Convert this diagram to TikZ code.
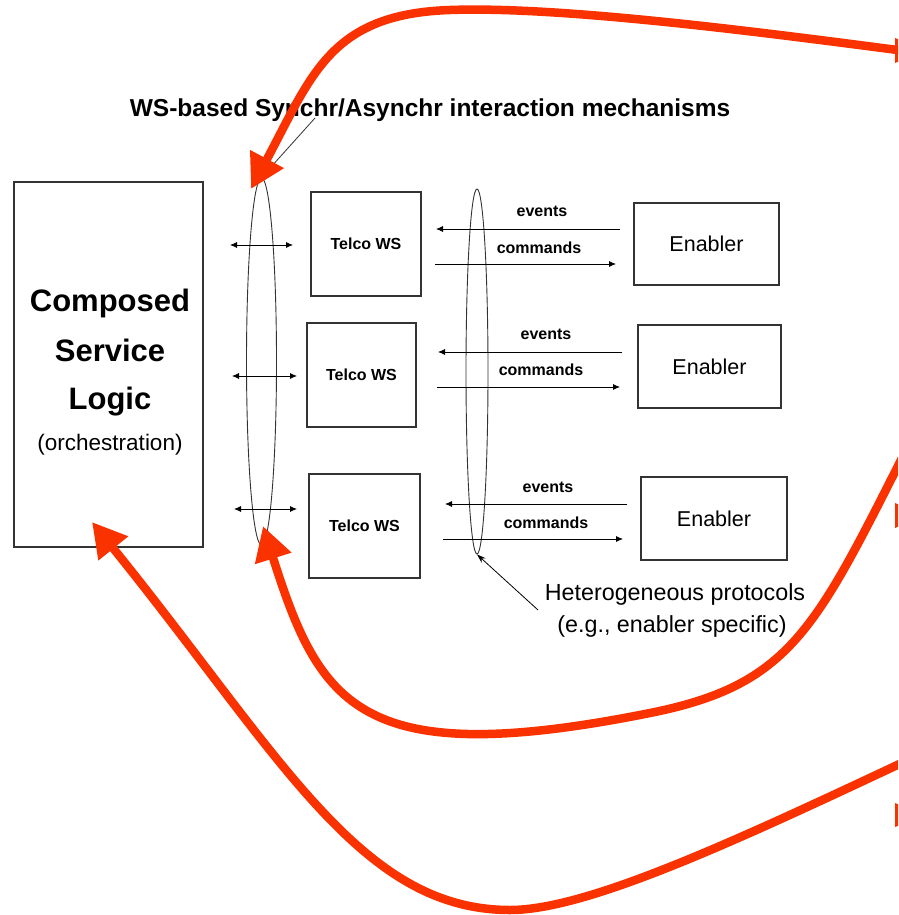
\documentclass[tikz,border=0pt]{standalone}
\usepackage{fontspec}
\setmainfont{Liberation Sans}
\usetikzlibrary{arrows.meta,shapes.geometric}
\definecolor{redc}{HTML}{FA3200}
\definecolor{linec}{HTML}{333333}
\begin{document}
\begin{tikzpicture}[x=1pt,y=-1pt,
  box/.style={draw=linec, line width=1.1pt, inner sep=0pt},
  telco/.style={box, minimum height=104pt, font=\fontsize{16}{18}\selectfont\bfseries},
  enabler/.style={box, minimum height=83pt, font=\fontsize{21.5}{24}\selectfont},
  oval/.style={draw=linec, line width=0.9pt, ellipse, inner sep=0pt},
  lbl/.style={font=\fontsize{16}{18}\selectfont\bfseries, anchor=base, inner sep=0pt},
  thinarrow/.style={line width=0.8pt, -{Latex[length=7pt,width=6pt]}},
  dblarrow/.style={line width=0.8pt, {Latex[length=7pt,width=6pt]}-{Latex[length=7pt,width=6pt]}},
  redcurve/.style={draw=redc, line width=8.5pt, line join=round},
  redhead/.style={-{Triangle[length=34pt,width=36pt]}}
]
\useasboundingbox (0,0) rectangle (898,915);
\clip (0,0) rectangle (898,915);

% Composed service logic
\node[box, minimum width=189pt, minimum height=365pt] (csl) at (108.5,364.5) {};
\node[anchor=base, inner sep=0pt, font=\fontsize{31}{36}\selectfont\bfseries] (t1) at (110,311) {Composed};
\node[anchor=base, inner sep=0pt, font=\fontsize{31}{36}\selectfont\bfseries] (t2) at (110,361) {Service};
\node[anchor=base, inner sep=0pt, font=\fontsize{31}{36}\selectfont\bfseries] (t3) at (110,409) {Logic};
\node[anchor=base, inner sep=0pt, font=\fontsize{22.5}{26}\selectfont] (t4) at (110,450) {(orchestration)};

% ellipses
\node[oval, minimum width=30pt, minimum height=367pt] (e1) at (261.5,361.5) {};
\node[oval, minimum width=22pt, minimum height=365pt] (e2) at (477,371.5) {};

% Telco WS boxes
\node[telco, minimum width=110pt] (w1) at (366,244) {Telco WS};
\node[telco, minimum width=109pt] (w2) at (361.5,375) {Telco WS};
\node[telco, minimum width=111pt] (w3) at (364.5,526) {Telco WS};

% Enablers
\node[enabler, minimum width=145pt, minimum height=82pt] (n1) at (706.5,244) {Enabler};
\node[enabler, minimum width=143pt] (n2) at (709.5,366.5) {Enabler};
\node[enabler, minimum width=146pt] (n3) at (714,518.5) {Enabler};

% double arrows
\coordinate (d1l) at (230,245); \coordinate (d1r) at (293,245);
\coordinate (d2l) at (232,376); \coordinate (d2r) at (297,376);
\coordinate (d3l) at (234,509); \coordinate (d3r) at (297,509);
\draw[dblarrow] (d1l) -- (d1r);
\draw[dblarrow] (d2l) -- (d2r);
\draw[dblarrow] (d3l) -- (d3r);

% events / commands
\coordinate (ev1s) at (620,229); \coordinate (ev1e) at (436,229);
\coordinate (cm1s) at (435,264); \coordinate (cm1e) at (616,264);
\coordinate (ev2s) at (622,352); \coordinate (ev2e) at (438,352);
\coordinate (cm2s) at (437,387); \coordinate (cm2e) at (620,387);
\coordinate (ev3s) at (627,504); \coordinate (ev3e) at (445,504);
\coordinate (cm3s) at (443,539); \coordinate (cm3e) at (623,539);
\draw[thinarrow] (ev1s) -- (ev1e);
\draw[thinarrow] (cm1s) -- (cm1e);
\draw[thinarrow] (ev2s) -- (ev2e);
\draw[thinarrow] (cm2s) -- (cm2e);
\draw[thinarrow] (ev3s) -- (ev3e);
\draw[thinarrow] (cm3s) -- (cm3e);
\node[lbl] (le1) at (542,216) {events};
\node[lbl] (lc1) at (539,253) {commands};
\node[lbl] (le2) at (546,339) {events};
\node[lbl] (lc2) at (541,375) {commands};
\node[lbl] (le3) at (548,492) {events};
\node[lbl] (lc3) at (546,528) {commands};

% labels
\node[anchor=base, inner sep=0pt, font=\fontsize{24.5}{28}\selectfont\bfseries] (wsl) at (430,117) {WS-based Synchr/Asynchr interaction mechanisms};
\coordinate (wsp) at (315,118);
\draw[line width=0.8pt, linec] (wsp) -- (e1.north);

\node[anchor=base, inner sep=0pt, font=\fontsize{23.3}{28}\selectfont] (hp1) at (675,600) {Heterogeneous protocols};
\node[anchor=base, inner sep=0pt, font=\fontsize{23.3}{28}\selectfont] (hp2) at (672,632) {(e.g., enabler specific)};
\coordinate (hpp) at (538,610);
\draw[line width=0.8pt, -{Stealth[length=9pt,width=6pt]}] (hpp) -- (e2.south);

% red curves
\coordinate (r1s) at (905,51);
\coordinate (r1m) at (450,10);
\coordinate (r1tip) at (251,189);
\coordinate (r2s) at (905,452);
\coordinate (r2m) at (650,713);
\coordinate (r2tip) at (263,526);
\coordinate (r3s) at (925,752);
\coordinate (r3m) at (510,910);
\coordinate (r3tip) at (92,522);
\draw[redcurve, redhead] (r1s) .. controls (760,32) and (560,6) .. (r1m)
  .. controls (330,14) and (312,75) .. (r1tip);
\draw[redcurve, redhead] (r2s) .. controls (815,630) and (790,685) .. (r2m)
  .. controls (360,771) and (320,706.5) .. (r2tip);
\draw[redcurve, redhead] (r3s) .. controls (745,836.6) and (590,910) .. (r3m)
  .. controls (360,910) and (281,756) .. (r3tip);
\fill[redc] (895,38) -- (925,50.5) -- (895,63) -- cycle;
\fill[redc] (895,503) -- (925,515.5) -- (895,528) -- cycle;
\fill[redc] (895,803) -- (925,815) -- (895,827) -- cycle;
\end{tikzpicture}
\end{document}
